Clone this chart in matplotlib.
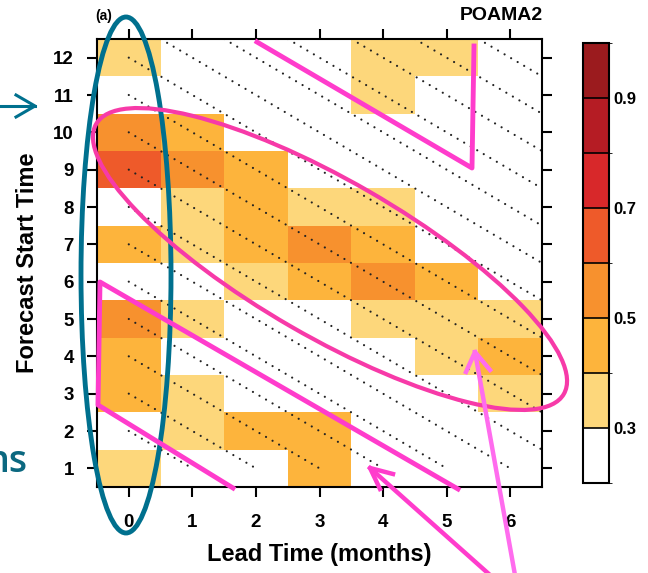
import numpy as np
import matplotlib
matplotlib.use('Agg')
import matplotlib.pyplot as plt
from matplotlib.colors import ListedColormap, BoundaryNorm
from matplotlib.patches import Ellipse

plt.rcParams['font.family'] = ['Liberation Sans', 'DejaVu Sans']
plt.rcParams['font.weight'] = 'bold'

# data: correlation skill, rows = forecast start month 1..12, cols = lead 0..6
leads = [0, 1, 2, 3, 4, 5, 6]
starts = [1, 2, 3, 4, 5, 6, 7, 8, 9, 10, 11, 12]
skill = [
    [0.35, 0.20, 0.20, 0.45, 0.20, 0.20, 0.20],  # 1
    [0.20, 0.35, 0.45, 0.45, 0.20, 0.20, 0.20],  # 2
    [0.45, 0.35, 0.20, 0.20, 0.20, 0.20, 0.35],  # 3
    [0.45, 0.20, 0.20, 0.20, 0.20, 0.35, 0.45],  # 4
    [0.55, 0.35, 0.20, 0.20, 0.35, 0.35, 0.35],  # 5
    [0.20, 0.20, 0.35, 0.45, 0.55, 0.45, 0.20],  # 6
    [0.45, 0.35, 0.45, 0.55, 0.45, 0.20, 0.20],  # 7
    [0.20, 0.35, 0.45, 0.35, 0.35, 0.20, 0.20],  # 8
    [0.65, 0.55, 0.45, 0.20, 0.20, 0.20, 0.20],  # 9
    [0.55, 0.45, 0.20, 0.20, 0.20, 0.20, 0.20],  # 10
    [0.20, 0.20, 0.20, 0.20, 0.35, 0.20, 0.20],  # 11
    [0.35, 0.20, 0.20, 0.20, 0.35, 0.35, 0.20],  # 12
]
levels = [0.2, 0.3, 0.4, 0.5, 0.6, 0.7, 0.8, 0.9, 1.0]
cbar_ticks = [0.3, 0.5, 0.7, 0.9]
colors = ['white', '#fdd77b', '#fdb43c', '#f7912e', '#ee5a2a',
          '#d8282a', '#b51c24', '#9b1b1e']

fig = plt.figure(figsize=(6.48, 5.73), dpi=100)
W, H = 648.0, 573.0
ax = fig.add_axes([97 / W, 1 - 487 / H, 445 / W, 448 / H])

cmap = ListedColormap(colors)
norm = BoundaryNorm(levels, cmap.N)
xe = np.arange(len(leads) + 1) - 0.5
ye = np.arange(len(starts) + 1) + 0.5
mesh = ax.pcolormesh(xe, ye, np.array(skill), cmap=cmap, norm=norm)

# dotted lines of constant target month (start + lead = const)
for T in range(2, 19):
    x0 = max(0, T - 12.5)
    x1 = min(6.5, T - 1)
    if x0 < x1:
        ax.plot([x0, x1], [T - x0, T - x1], color='#222222', lw=1.6,
                linestyle=(0, (0.01, 3.4)), dash_capstyle='round')

ax.set_xlim(-0.5, 6.5)
ax.set_ylim(0.5, 12.5)
ax.set_xticks(leads)
ax.set_yticks(starts)
ax.tick_params(direction='out', length=7.5, width=1.5, top=True, right=True,
               labelsize=13.5)
ax.tick_params(axis='x', pad=12)
ax.tick_params(axis='y', pad=9)
for s in ax.spines.values():
    s.set_linewidth(1.5)
ax.set_xlabel('Lead Time (months)', fontsize=17, fontweight='bold')
ax.xaxis.set_label_coords(0.5, -0.125)
ax.set_ylabel('Forecast Start Time', fontsize=17, fontweight='bold')
ax.yaxis.set_label_coords(-0.13, 0.5)

fig.text(95 / W, 1 - 16 / H, '(a)', fontsize=10, fontweight='bold',
         ha='left', va='center')
fig.text(543 / W, 1 - 15 / H, 'POAMA2', fontsize=14, fontweight='bold',
         ha='right', va='center')

cax = fig.add_axes([583 / W, 1 - 483 / H, 26 / W, 440 / H])
cb = fig.colorbar(mesh, cax=cax, ticks=cbar_ticks, drawedges=True)
cb.ax.tick_params(length=0, labelsize=12, pad=3)
cb.outline.set_linewidth(1.5)
cb.dividers.set_linewidth(1.2)
cb.ax.set_yticklabels([str(t) for t in cbar_ticks], fontweight='bold')

# hand-drawn highlight overlay, in pixel coordinates
ov = fig.add_axes([0, 0, 1, 1], zorder=10)
ov.set_xlim(0, W)
ov.set_ylim(H, 0)
ov.axis('off')
ov.patch.set_alpha(0)

teal = '#00708e'
pink = '#ff3ccc'
ov.add_patch(Ellipse((126, 275), 90, 516, fill=False, ec=teal, lw=3.5))
ov.add_patch(Ellipse((330, 259), 540, 156, angle=30, fill=False,
                     ec='#f73aa8', lw=3))
ov.plot([257, 472, 474], [42, 168, 46], color=pink, lw=3.5)
ov.plot([233, 98, 100, 458], [488, 405, 282, 489], color=pink, lw=3.5)
ov.plot([370, 490], [468, 575], color=pink, lw=3.2)
ov.plot([393, 370, 380], [474, 468, 489], color=pink, lw=3.2)
ov.plot([475, 515], [352, 575], color='#ff6cee', lw=3.2)
ov.plot([466, 475, 490], [372, 352, 370], color='#ff6cee', lw=3.2)
ov.plot([0, 35], [106, 106], color=teal, lw=2.2)
ov.plot([16, 35, 16], [95, 106, 117], color=teal, lw=2.2)
ov.text(28, 472, 'ns', color='#0b6880', fontsize=27, fontweight='semibold',
        family=['Open Sans', 'DejaVu Sans'], ha='right', va='baseline')

fig.savefig('out.png', dpi=100)
